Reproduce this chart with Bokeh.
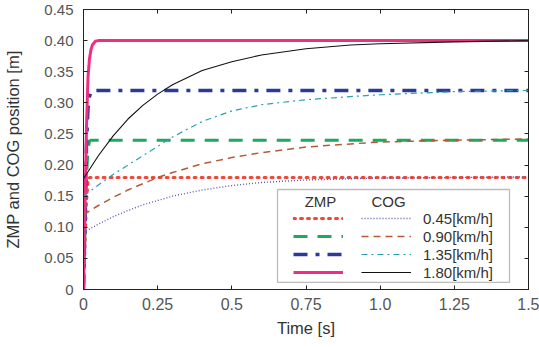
from bokeh.plotting import figure
from bokeh.models import (Legend, LegendItem, LinearAxis, FixedTicker, BoxAnnotation,
                          Label, Range1d)
from bokeh.embed import file_html
from bokeh.resources import INLINE

# ---------------- data ----------------
t_zmp = [0, 0.005, 0.01, 0.015, 0.02, 0.025, 0.03, 0.04, 0.05, 1.5]
zmp_045 = [0, 0.07, 0.14, 0.172, 0.180, 0.180, 0.180, 0.180, 0.180, 0.180]
zmp_090 = [0, 0.09, 0.18, 0.225, 0.238, 0.240, 0.240, 0.240, 0.240, 0.240]
zmp_135 = [0, 0.11, 0.23, 0.290, 0.310, 0.317, 0.320, 0.320, 0.320, 0.320]
zmp_180 = [0, 0.13, 0.26, 0.340, 0.370, 0.385, 0.393, 0.399, 0.400, 0.400]

t_cog = [0, 0.05, 0.1, 0.15, 0.2, 0.25, 0.3, 0.4, 0.5, 0.6, 0.75, 0.9, 1.0, 1.25, 1.5]
cog_045 = [0.092, 0.105, 0.117, 0.127, 0.136, 0.143, 0.150, 0.160, 0.167, 0.172, 0.176, 0.178, 0.179, 0.180, 0.181]
cog_090 = [0.120, 0.135, 0.148, 0.160, 0.170, 0.180, 0.188, 0.202, 0.212, 0.220, 0.229, 0.234, 0.237, 0.240, 0.242]
cog_135 = [0.150, 0.168, 0.185, 0.200, 0.215, 0.230, 0.245, 0.270, 0.287, 0.297, 0.305, 0.310, 0.313, 0.318, 0.320]
cog_180 = [0.178, 0.215, 0.247, 0.274, 0.296, 0.314, 0.329, 0.352, 0.366, 0.377, 0.387, 0.393, 0.395, 0.398, 0.400]

speed_labels = ["0.45[km/h]", "0.90[km/h]", "1.35[km/h]", "1.80[km/h]"]

x_ticks = [0, 0.25, 0.5, 0.75, 1.0, 1.25, 1.5]
x_tick_labels = ["0", "0.25", "0.5", "0.75", "1.0", "1.25", "1.5"]
y_ticks = [0, 0.05, 0.10, 0.15, 0.20, 0.25, 0.30, 0.35, 0.40, 0.45]
y_tick_labels = ["0", "0.05", "0.10", "0.15", "0.20", "0.25", "0.30", "0.35", "0.40", "0.45"]

FONT = "Liberation Sans"

p = figure(frame_width=445, frame_height=280, output_backend="svg", toolbar_location=None,
           x_range=Range1d(0, 1.5), y_range=Range1d(0, 0.45),
           min_border_left=83, min_border_right=11, min_border_top=9, min_border_bottom=58,
           background_fill_color="white", border_fill_color="white")
p.grid.visible = False
p.outline_line_color = "#222222"

for ax in p.xaxis:
    ax.ticker = FixedTicker(ticks=x_ticks)
    ax.major_label_overrides = dict(zip(x_ticks, x_tick_labels))
    ax.axis_label = "Time [s]"
for ax in p.yaxis:
    ax.ticker = FixedTicker(ticks=y_ticks)
    ax.major_label_overrides = dict(zip(y_ticks, y_tick_labels))
    ax.axis_label = "ZMP and COG position [m]"

def style_axis(ax):
    ax.major_tick_in = 4
    ax.major_tick_out = 0
    ax.minor_tick_line_color = None
    ax.axis_line_color = "#222222"
    ax.major_tick_line_color = "#222222"
    ax.major_label_text_font = FONT
    ax.major_label_text_color = "#555555"
    ax.axis_label_text_font = FONT
    ax.axis_label_text_font_size = "16.5px"
    ax.axis_label_text_font_style = "normal"
    ax.axis_label_text_color = "#333333"

for ax in p.xaxis + p.yaxis:
    style_axis(ax)
p.xaxis.major_label_text_font_size = "16px"
p.yaxis.major_label_text_font_size = "15px"
p.xaxis.major_label_standoff = 8
p.xaxis.axis_label_standoff = 6
p.yaxis.major_label_standoff = 10
p.yaxis.axis_label_standoff = 19

top_ax = LinearAxis(ticker=FixedTicker(ticks=x_ticks), major_label_text_font_size="1px",
                    major_label_text_color=None, major_label_standoff=0)
right_ax = LinearAxis(ticker=FixedTicker(ticks=y_ticks), major_label_text_font_size="1px",
                      major_label_text_color=None, major_label_standoff=0)
for ax in (top_ax, right_ax):
    ax.major_tick_in = 4
    ax.major_tick_out = 0
    ax.minor_tick_line_color = None
    ax.axis_line_color = "#222222"
    ax.major_tick_line_color = "#222222"
p.add_layout(top_ax, "above")
p.add_layout(right_ax, "right")

# ZMP lines
z1 = p.line(t_zmp, zmp_045, line_color="#ee4a3a", line_width=3, line_dash="2 5", line_cap="round")
z2 = p.line(t_zmp, zmp_090, line_color="#1faa5a", line_width=3, line_dash="14 10")
z3 = p.line(t_zmp, zmp_135, line_color="#2a3a9a", line_width=3.5, line_dash="14 8 4 8")
z4 = p.line(t_zmp, zmp_180, line_color="#ee2e82", line_width=3)

# COG lines
c1 = p.line(t_cog, cog_045, line_color="#5a5ab8", line_width=1.4, line_dash="1 2")
c2 = p.line(t_cog, cog_090, line_color="#b35a3a", line_width=1.5, line_dash="7 5")
c3 = p.line(t_cog, cog_135, line_color="#2aa0b0", line_width=1.2, line_dash="6 4 2 4")
c4 = p.line(t_cog, cog_180, line_color="#111111", line_width=1.1)

box = BoxAnnotation(left=0.654, right=1.436, bottom=0.0113, top=0.1607,
                    fill_color="white", fill_alpha=1.0, line_color="#222222", line_width=1.3)
p.add_layout(box)

common = dict(glyph_width=50, glyph_height=18, label_height=18, spacing=0, padding=0, margin=0,
              border_line_color=None, background_fill_alpha=0,
              label_text_font=FONT, label_text_font_size="15px")
leg_zmp = Legend(items=[LegendItem(label=" ", renderers=[r]) for r in (z1, z2, z3, z4)],
                 location=(210, 8), label_standoff=0, label_width=0,
                 label_text_color=None, **common)
leg_cog = Legend(items=[LegendItem(label=s, renderers=[r]) for s, r in zip(speed_labels, (c1, c2, c3, c4))],
                 location=(278, 8), label_standoff=12, label_text_color="#333333", **common)
p.add_layout(leg_zmp)
p.add_layout(leg_cog)

for txt, xx in (("ZMP", 0.799), ("COG", 1.028)):
    p.add_layout(Label(x=xx, y=0.1414, text=txt, text_align="center", text_baseline="middle",
                       text_font=FONT, text_font_size="15px", text_color="#333333"))

open("out.html", "w").write(file_html(p, INLINE))
